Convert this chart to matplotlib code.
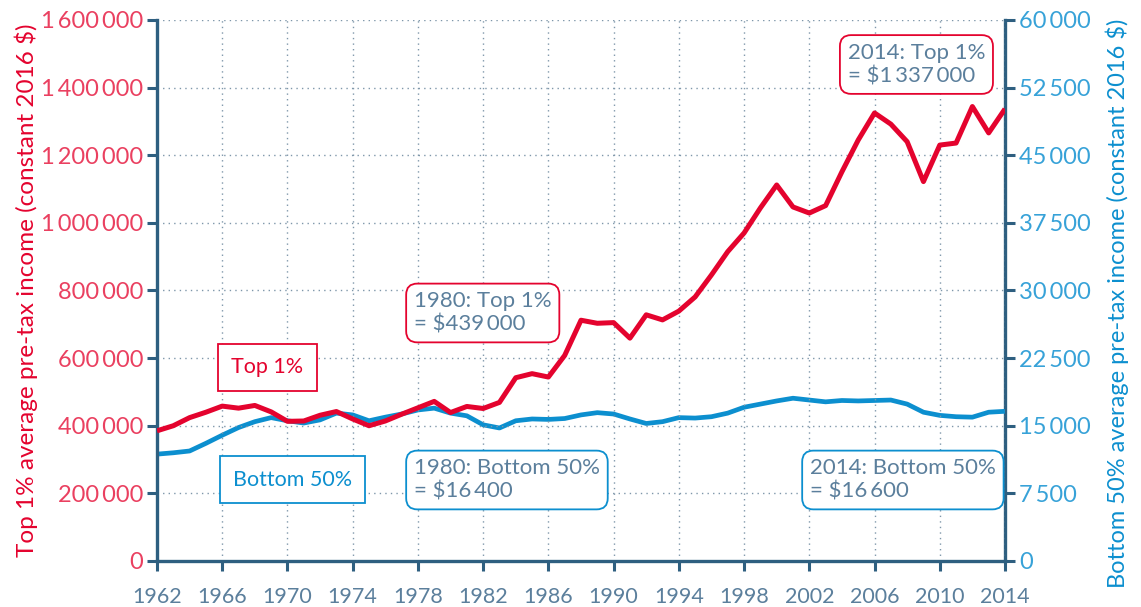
import numpy as np
import matplotlib
matplotlib.use("Agg")
import matplotlib.pyplot as plt
import matplotlib.ticker as ticker

plt.rcParams['font.family'] = ['Lato', 'DejaVu Sans']

years = list(range(1962, 2015))

# top 1% average pre-tax income, constant 2016 $
top1 = [385000, 400000, 424000, 440000, 458000, 452000, 460000, 441000, 413000, 414000,
        431000, 442000, 420000, 400000, 414000, 434000, 453000, 472000, 439000, 457000,
        451000, 469000, 542000, 554000, 544000, 608000, 712000, 703000, 705000, 659000,
        728000, 713000, 739000, 781000, 846000, 915000, 970000, 1044000, 1112000, 1047000,
        1029000, 1051000, 1151000, 1245000, 1325000, 1292000, 1240000, 1122000, 1230000, 1236000,
        1344000, 1266000, 1337000]

# bottom 50% average pre-tax income, constant 2016 $
bottom50 = [11850, 12000, 12200, 13050, 13950, 14800, 15450, 15900, 15550, 15300,
            15650, 16400, 16200, 15550, 15950, 16300, 16750, 16950, 16400, 16100,
            15100, 14750, 15550, 15750, 15700, 15800, 16200, 16450, 16300, 15750,
            15250, 15450, 15900, 15850, 16000, 16400, 17050, 17400, 17750, 18050,
            17850, 17650, 17800, 17750, 17800, 17850, 17400, 16500, 16150, 16000,
            15950, 16500, 16600]

red = '#e4032e'
blue = '#0c8fcf'
spine_col = '#2e5f80'
txt_col = '#5b7f9c'

def spaced(v, pos):
    return f"{v:,.0f}".replace(",", "\u2009")

fig = plt.figure(figsize=(11.41, 6.07), dpi=100)
ax = fig.add_axes([0.1376, 0.0758, 0.7432, 0.8913])
ax2 = ax.twinx()

ax.plot(years, top1, color=red, lw=3.6, zorder=4, solid_capstyle='butt')
ax2.plot(years, bottom50, color=blue, lw=3.4, zorder=3, solid_capstyle='butt')

# put the red line above the twin axis
ax.set_zorder(ax2.get_zorder() + 1)
ax.patch.set_visible(False)

ax.set_xlim(1962, 2014)
ax.set_ylim(0, 1600000)
ax2.set_ylim(0, 60000)
ax.set_xticks(range(1962, 2015, 4))
ax.yaxis.set_major_locator(ticker.MultipleLocator(200000))
ax2.yaxis.set_major_locator(ticker.MultipleLocator(7500))
ax.yaxis.set_major_formatter(ticker.FuncFormatter(spaced))
ax2.yaxis.set_major_formatter(ticker.FuncFormatter(spaced))

ax.grid(True, which='major', linestyle=(0, (1, 3)), color='#7f97aa', linewidth=1.0)

for a in (ax, ax2):
    a.spines['top'].set_visible(False)
    for s in ('left', 'right', 'bottom'):
        a.spines[s].set_color(spine_col)
        a.spines[s].set_linewidth(2.4)
    a.tick_params(width=2.2, length=7, color=spine_col)
ax.spines['right'].set_visible(False)
ax2.spines['left'].set_visible(False)
ax2.spines['bottom'].set_visible(False)

ax.tick_params(axis='y', labelcolor='#ea4060', labelsize=17, pad=3)
ax.tick_params(axis='x', labelcolor=txt_col, labelsize=15.5, pad=12)
ax2.tick_params(axis='y', labelcolor='#37a2d8', labelsize=17, pad=3)

ax.set_ylabel('Top 1% average pre-tax income (constant 2016 $)', color=red,
              fontsize=17.5, labelpad=2)
ax2.set_ylabel('Bottom 50% average pre-tax income (constant 2016 $)', color=blue,
               fontsize=17)
ax2.yaxis.set_label_coords(1.119, 0.477)

# series labels
ax.text(0.1303, 0.3577, 'Top 1%', transform=ax.transAxes, ha='center', va='center',
        color=red, fontsize=15.5, zorder=6,
        bbox=dict(boxstyle='square,pad=0.62', fc='white', ec=red, lw=1.3))
ax.text(0.1598, 0.1506, 'Bottom 50%', transform=ax.transAxes, ha='center', va='center',
        color=blue, fontsize=15.5, zorder=6,
        bbox=dict(boxstyle='square,pad=0.62', fc='white', ec=blue, lw=1.3))

# value call-outs
notes = [
    (0.3030, 0.4584, f"1980: Top 1%\n= ${spaced(top1[18], 0)}", red),
    (0.3030, 0.1497, f"1980: Bottom 50%\n= ${spaced(bottom50[18], 0)}", blue),
    (0.8145, 0.9177, f"2014: Top 1%\n= ${spaced(top1[-1], 0)}", red),
    (0.7700, 0.1497, f"2014: Bottom 50%\n= ${spaced(bottom50[-1], 0)}", blue),
]
for x, y, s, ec in notes:
    ax.text(x, y, s, transform=ax.transAxes, ha='left', va='center', color=txt_col,
            fontsize=16, linespacing=1.2, zorder=6,
            bbox=dict(boxstyle='round,pad=0.35,rounding_size=0.5', fc='white', ec=ec, lw=1.3))

fig.savefig('out.png', dpi=100)
